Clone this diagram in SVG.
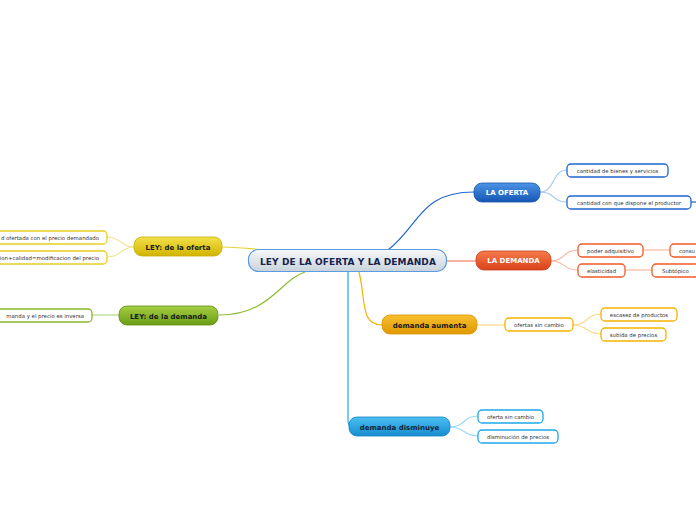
<svg xmlns="http://www.w3.org/2000/svg" width="696" height="520" viewBox="0 0 696 520">
<defs>
<linearGradient id="gC" x1="0" y1="0" x2="0" y2="1"><stop offset="0" stop-color="#f7f9fb"/><stop offset="1" stop-color="#c9d2db"/></linearGradient>
<linearGradient id="gB" x1="0" y1="0" x2="0" y2="1"><stop offset="0" stop-color="#4b94e6"/><stop offset="1" stop-color="#1556b4"/></linearGradient>
<linearGradient id="gR" x1="0" y1="0" x2="0" y2="1"><stop offset="0" stop-color="#f77b4a"/><stop offset="1" stop-color="#d9431a"/></linearGradient>
<linearGradient id="gO" x1="0" y1="0" x2="0" y2="1"><stop offset="0" stop-color="#f8c030"/><stop offset="1" stop-color="#df9800"/></linearGradient>
<linearGradient id="gL" x1="0" y1="0" x2="0" y2="1"><stop offset="0" stop-color="#4cc0f2"/><stop offset="1" stop-color="#168cd0"/></linearGradient>
<linearGradient id="gY" x1="0" y1="0" x2="0" y2="1"><stop offset="0" stop-color="#f3e04a"/><stop offset="1" stop-color="#d2b400"/></linearGradient>
<linearGradient id="gG" x1="0" y1="0" x2="0" y2="1"><stop offset="0" stop-color="#a6cf44"/><stop offset="1" stop-color="#6a9c14"/></linearGradient>
</defs>
<style>
text{font-family:"DejaVu Sans","Liberation Sans",sans-serif;}
.c{font-size:9px;font-weight:bold;fill:#14234e;text-anchor:middle;letter-spacing:0.1px}
.m{font-size:7px;font-weight:bold;text-anchor:middle}
.s{font-size:5.4px;fill:#333;text-anchor:middle}
.sub{fill:#fff;stroke-width:1.3}
.ln{fill:none;stroke-width:1.2}
</style>
<g id="connectors">
<path class="ln" stroke="#1f66d0" d="M388,250 C420,225 420,192 474,192"/>
<path class="ln" stroke="#f28060" d="M447,261 L476,261"/>
<path class="ln" stroke="#f5b200" d="M359,272 C366,300 360,325 382,325"/>
<path class="ln" stroke="#1ea8ea" d="M348,272 L348,420 C348,425 350,427 352,427"/>
<path class="ln" stroke="#e8d43a" d="M222,247 C240,247 250,249 266,250"/>
<path class="ln" stroke="#8cbc30" d="M219,315 C270,315 280,280 305,272"/>
<path class="ln" stroke="#a8c8f0" d="M540,192 C555,192 552,170 567,170"/>
<path class="ln" stroke="#a8c8f0" d="M540,192 C555,192 552,202 567,202"/>
<path class="ln" stroke="#1f66d0" d="M691,202 L696,202"/>
<path class="ln" stroke="#f8b8a0" d="M551,261 C565,261 563,250 578,250"/>
<path class="ln" stroke="#f8b8a0" d="M551,261 C565,261 563,270 578,270"/>
<path class="ln" stroke="#f8b8a0" d="M643,250 L670,250"/>
<path class="ln" stroke="#f8b8a0" d="M625,270 L652,270"/>
<path class="ln" stroke="#fbd98a" d="M477,325 L505,325"/>
<path class="ln" stroke="#fbd98a" d="M573,325 C588,325 586,314 601,314"/>
<path class="ln" stroke="#fbd98a" d="M573,325 C588,325 586,334 601,334"/>
<path class="ln" stroke="#9ad8f4" d="M450,427 C465,427 463,416 478,416"/>
<path class="ln" stroke="#9ad8f4" d="M450,427 C465,427 463,436 478,436"/>
<path class="ln" stroke="#f0e48a" d="M134,247 C120,247 122,237 107,237"/>
<path class="ln" stroke="#f0e48a" d="M134,247 C120,247 122,257 107,257"/>
<path class="ln" stroke="#b8d888" d="M119,315 L92,315"/>
</g>
<g id="central"><rect x="248.5" y="249.5" width="198" height="22" rx="10" fill="url(#gC)" stroke="#5b9be0" stroke-width="1.2"/><text class="c" x="348" y="264.5">LEY DE LA OFERTA Y LA DEMANDA</text></g>
<g id="la-oferta"><rect x="474" y="183" width="66" height="19" rx="8" fill="url(#gB)" stroke="#1a56a8" stroke-width="0.8"/><text class="m" x="507" y="195" fill="#fff">LA OFERTA</text></g>
<g id="la-demanda"><rect x="476" y="251" width="75" height="19" rx="8" fill="url(#gR)" stroke="#c8401a" stroke-width="0.8"/><text class="m" x="513.5" y="263" fill="#fff">LA DEMANDA</text></g>
<g id="demanda-aumenta"><rect x="382" y="315" width="95" height="19" rx="8" fill="url(#gO)" stroke="#d89400" stroke-width="0.8"/><text class="m" x="429.5" y="327.5" fill="#1a1a1a">demanda aumenta</text></g>
<g id="demanda-disminuye"><rect x="349" y="417" width="101" height="19" rx="8" fill="url(#gL)" stroke="#1482c0" stroke-width="0.8"/><text class="m" x="399.5" y="429.5" fill="#10233c">demanda disminuye</text></g>
<g id="ley-oferta"><rect x="134" y="237" width="88" height="19" rx="8" fill="url(#gY)" stroke="#c8ac00" stroke-width="0.8"/><text class="m" x="178" y="249.5" fill="#1a1a1a">LEY: de la oferta</text></g>
<g id="ley-demanda"><rect x="119" y="306" width="99" height="19" rx="8" fill="url(#gG)" stroke="#5e8e10" stroke-width="0.8"/><text class="m" x="168.5" y="318.5" fill="#1a1a1a">LEY: de la demanda</text></g>
<g id="n-bienes"><rect class="sub" x="567" y="164" width="101" height="13" rx="4" stroke="#1f66d0"/><text class="s" x="617.5" y="172.5">cantidad de bienes y servicios</text></g>
<g id="n-dispone"><rect class="sub" x="567" y="196" width="124" height="13" rx="4" stroke="#1f66d0"/><text class="s" x="629" y="204.5">cantidad con que dispone el productor</text></g>
<g id="n-poder"><rect class="sub" x="578" y="244" width="65" height="13" rx="4" stroke="#f05a28"/><text class="s" x="610.5" y="252.5">poder adquisitivo</text></g>
<g id="n-consu"><rect class="sub" x="670" y="244" width="40" height="13" rx="4" stroke="#f05a28"/><text class="s" x="679" y="252.5" style="text-anchor:start">consu</text></g>
<g id="n-elasticidad"><rect class="sub" x="578" y="264" width="47" height="13" rx="4" stroke="#f05a28"/><text class="s" x="601.5" y="272.5">elasticidad</text></g>
<g id="n-subtopico"><rect class="sub" x="652" y="264" width="55" height="13" rx="4" stroke="#f05a28"/><text class="s" x="662" y="272.5" style="text-anchor:start">Subtópico</text></g>
<g id="n-ofertas-sin"><rect class="sub" x="505" y="318" width="68" height="13" rx="4" stroke="#f5b200"/><text class="s" x="539" y="326.5">ofertas sin cambio</text></g>
<g id="n-escasez"><rect class="sub" x="601" y="308" width="76" height="13" rx="4" stroke="#f5b200"/><text class="s" x="639" y="316.5">escasez de productos</text></g>
<g id="n-subida"><rect class="sub" x="601" y="328" width="65" height="13" rx="4" stroke="#f5b200"/><text class="s" x="633.5" y="336.5">subida de precios</text></g>
<g id="n-oferta-sin"><rect class="sub" x="478" y="410" width="65" height="13" rx="4" stroke="#1ea8ea"/><text class="s" x="510.5" y="418.5">oferta sin cambio</text></g>
<g id="n-disminucion"><rect class="sub" x="478" y="430" width="80" height="13" rx="4" stroke="#1ea8ea"/><text class="s" x="518" y="438.5">disminución de precios</text></g>
<g id="n-ofertada"><rect class="sub" x="-40" y="231" width="147" height="13" rx="4" stroke="#e8d020"/><text class="s" x="99" y="239.5" style="text-anchor:end">d ofertada con el precio demandado</text></g>
<g id="n-calidad"><rect class="sub" x="-40" y="251" width="147" height="13" rx="4" stroke="#e8d020"/><text class="s" x="99" y="259.5" style="text-anchor:end">cion+calidad=modificacion del precio</text></g>
<g id="n-inversa"><rect class="sub" x="-40" y="309" width="132" height="13" rx="4" stroke="#88b828"/><text class="s" x="84" y="317.5" style="text-anchor:end">manda y el precio es inversa</text></g>
</svg>
